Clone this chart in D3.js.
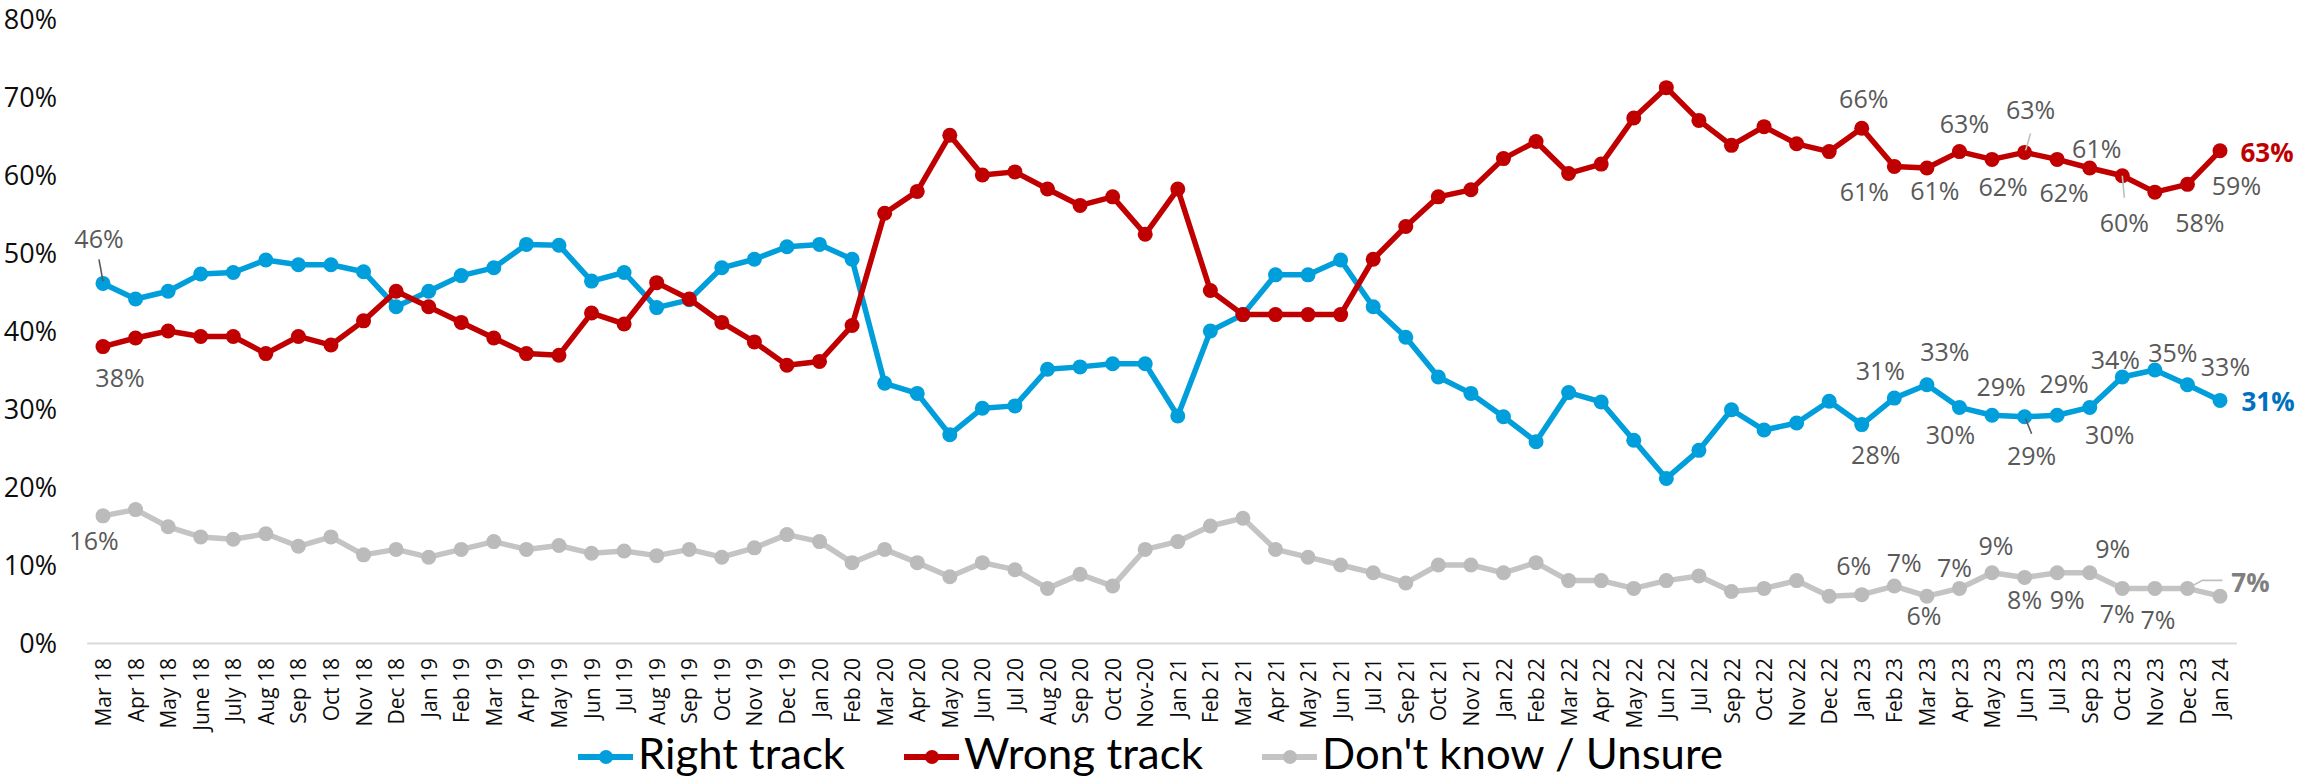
<!DOCTYPE html>
<html><head><meta charset="utf-8">
<script src="https://cdn.jsdelivr.net/npm/d3@7"></script>
<style>body{margin:0;background:#fff}svg{display:block;background:#fff}</style>
</head><body>
<svg id="chart" width="2305" height="779"></svg>
<script>
// ---------- DATA ----------
const categories = ["Mar 18","Apr 18","May 18","June 18","July 18","Aug 18","Sep 18","Oct 18","Nov 18","Dec 18",
  "Jan 19","Feb 19","Mar 19","Arp 19","May 19","Jun 19","Jul 19","Aug 19","Sep 19","Oct 19","Nov 19","Dec 19",
  "Jan 20","Feb 20","Mar 20","Apr 20","May 20","Jun 20","Jul 20","Aug 20","Sep 20","Oct 20","Nov-20",
  "Jan 21","Feb 21","Mar 21","Apr 21","May 21","Jun 21","Jul 21","Sep 21","Oct 21","Nov 21",
  "Jan 22","Feb 22","Mar 22","Apr 22","May 22","Jun 22","Jul 22","Sep 22","Oct 22","Nov 22","Dec 22",
  "Jan 23","Feb 23","Mar 23","Apr 23","May 23","Jun 23","Jul 23","Sep 23","Oct 23","Nov 23","Dec 23","Jan 24"];
const rightTrack = [46.1,44.1,45.1,47.3,47.5,49.1,48.5,48.5,47.6,43.1,
  45.1,47.1,48.1,51.1,51.0,46.4,47.5,43.0,44.0,48.1,49.2,50.8,
  51.1,49.2,33.3,32.0,26.7,30.1,30.4,35.1,35.4,35.8,35.8,
  29.1,40.0,42.1,47.2,47.2,49.1,43.1,39.2,34.1,32.0,
  29.0,25.8,32.1,30.9,26.0,21.1,24.7,29.9,27.3,28.2,31.0,
  28.0,31.4,33.1,30.2,29.2,29.0,29.2,30.2,34.1,35.0,33.1,31.1];
const wrongTrack = [38.0,39.1,40.0,39.3,39.3,37.1,39.3,38.2,41.3,45.1,
  43.1,41.1,39.1,37.1,36.9,42.3,40.9,46.2,44.1,41.1,38.6,35.6,
  36.1,40.7,55.1,57.9,65.1,60.0,60.4,58.2,56.1,57.2,52.4,
  58.2,45.2,42.1,42.1,42.1,42.1,49.2,53.4,57.2,58.1,
  62.1,64.3,60.2,61.4,67.3,71.2,67.0,63.8,66.2,64.0,63.0,
  66.0,61.1,60.9,63.0,62.0,62.9,62.0,60.9,59.9,57.8,58.8,63.1];
const dontKnow = [16.3,17.1,14.9,13.6,13.3,14.0,12.4,13.6,11.3,12.0,
  11.0,12.0,13.0,12.0,12.5,11.5,11.8,11.2,12.0,11.0,12.2,13.9,
  13.0,10.3,12.0,10.3,8.5,10.3,9.4,7.0,8.8,7.3,12.0,
  13.0,15.0,16.0,12.0,11.0,10.0,9.0,7.7,10.0,10.0,
  9.0,10.3,8.0,8.0,7.0,8.0,8.6,6.6,7.0,8.0,6.0,
  6.2,7.3,6.0,7.0,9.0,8.4,9.0,9.0,7.0,7.0,7.0,6.0];
const yTicks = [0,10,20,30,40,50,60,70,80];
const seriesNames = ["Right track","Wrong track","Don't know / Unsure"];

// ---------- STYLE / LAYOUT ----------
const colors = ["#009FDB","#C00000","#C4C4C4"];
const markerColors = ["#009FDB","#C00000","#BBBBBB"];
const boldColors = ["#0070C0","#C00000","#7F7F7F"];
const seriesValues = [rightTrack, wrongTrack, dontKnow];

// label placements: [pointIndex, dx, dy, bold, leader offsets]
const labelPlacements = [
  [ // right track
    [0,-4,-44,false,[[-4,-24],[0,-2]]],
    [54,14,31],[55,-14,-27],[56,18,-33],[57,-9,28],[58,9,-28],
    [59,7,39,false,[[1,2],[7,17]]],[60,7,-31],[61,20,28],[62,-7,-17],[63,18,-17],[64,38,-18],
    [65,48,1,true]
  ],
  [ // wrong track
    [0,17,32],
    [54,2,-29],[55,-30,26],[56,8,23],[57,5,-27],[58,11,28],
    [59,6,-42,false,[[1,-2],[6,-19]]],[60,7,34],[61,7,-19],
    [62,2,47,false,[[0,0],[2,22]]],[63,45,31],[64,49,2],
    [65,47,2,true]
  ],
  [ // don't know
    [0,-9,25],
    [54,-8,-28],[55,10,-23],[56,-3,20],[57,-5,-20],[58,4,-27],[59,0,23],
    [60,10,27],[61,23,-24],[62,-5,26],[63,3,32],
    [64,63,-6,true,[[2,-1],[15,-8],[35,-8]]]
  ]
];
const leaderColors = ["#595959","#BFBFBF","#BFBFBF"];

const svg = d3.select("#chart");
svg.append("rect").attr("width",2305).attr("height",779).attr("fill","#fff");

const x = d3.scalePoint().domain(categories).range([86.7, 2236.3]).padding(0.5);
const y = d3.scaleLinear().domain([0,80]).range([643, 19]);

// Y axis
const yAxis = svg.append("g").attr("transform","translate(57,0)")
  .call(d3.axisLeft(y).tickValues(yTicks).tickSize(0).tickPadding(0).tickFormat(d => d + "%"));
yAxis.select(".domain").remove();
yAxis.selectAll("text").attr("font-family","'Open Sans', sans-serif").attr("font-size",27)
  .attr("fill","#0D0D0D").attr("dy","0.34em");

// X axis
const xAxis = svg.append("g").attr("transform","translate(0,643)")
  .call(d3.axisBottom(x).tickSize(0).tickSizeOuter(0));
xAxis.select(".domain").attr("stroke","#D9D9D9").attr("stroke-width",2);
xAxis.selectAll("text")
  .attr("font-family","'Open Sans', sans-serif").attr("font-size",21).attr("fill","#0D0D0D")
  .attr("transform","rotate(-90)").attr("text-anchor","end")
  .attr("x",-15).attr("y",0).attr("dy","0.36em");

// Lines
const line = d3.line().x((d,i) => x(categories[i])).y(d => y(d));
seriesValues.forEach((vals, s) => {
  const g = svg.append("g");
  g.append("path").datum(vals).attr("d", line).attr("fill","none")
    .attr("stroke", colors[s]).attr("stroke-width",5.5).attr("stroke-linejoin","round");
  g.selectAll("circle").data(vals).join("circle")
    .attr("cx",(d,i) => x(categories[i])).attr("cy", d => y(d)).attr("r",7.5)
    .attr("fill", markerColors[s]);
});

// Data labels
seriesValues.forEach((vals, s) => {
  const g = svg.append("g");
  labelPlacements[s].forEach(p => {
    const [i, dx, dy, bold, leader] = p;
    const px = x(categories[i]), py = y(vals[i]);
    if (leader) {
      g.append("path")
        .attr("d", d3.line()(leader.map(o => [px + o[0], py + o[1]])))
        .attr("fill","none").attr("stroke", leaderColors[s]).attr("stroke-width",1.6);
    }
    g.append("text").attr("x", px + dx).attr("y", py + dy).attr("dy","0.35em")
      .attr("text-anchor","middle")
      .attr("font-family","'Open Sans', sans-serif")
      .attr("font-size", bold ? 26 : 25)
      .attr("font-weight", bold ? 700 : 400)
      .attr("fill", bold ? boldColors[s] : "#595959")
      .text(Math.round(vals[i]) + "%");
  });
});

// Legend
const legendX = [578, 904, 1262];
const legendTextW = [207, 239, 401];
const legY = 757;
const leg = svg.append("g");
seriesNames.forEach((name, s) => {
  const lx = legendX[s];
  leg.append("line").attr("x1", lx).attr("x2", lx + 55).attr("y1", legY).attr("y2", legY)
    .attr("stroke", colors[s]).attr("stroke-width",6);
  leg.append("circle").attr("cx", lx + 28).attr("cy", legY).attr("r",7).attr("fill", markerColors[s]);
  leg.append("text").attr("x", lx + 60).attr("y", 769)
    .attr("font-family","Lato, 'Open Sans', sans-serif").attr("font-size",43).attr("fill","#000")
    .attr("textLength", legendTextW[s]).attr("lengthAdjust","spacingAndGlyphs")
    .text(name);
});
</script>
</body></html>
